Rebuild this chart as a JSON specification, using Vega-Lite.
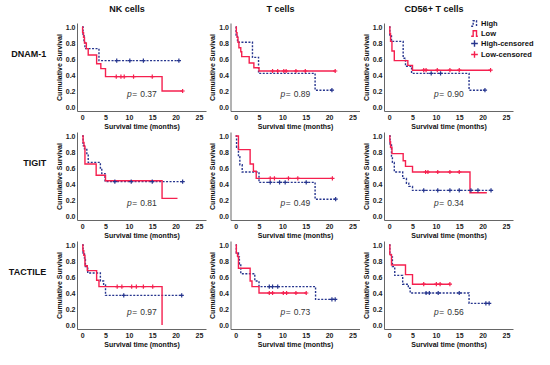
{
  "$schema": "https://vega.github.io/schema/vega-lite/v6.json",
  "padding": {"left": 8, "top": 4, "right": 0, "bottom": 2},
  "background": "white",
  "data": {"values": [
    {"marker":"DNAM-1","cells":"NK cells","group":"High","time":0,"surv":1},
    {"marker":"DNAM-1","cells":"NK cells","group":"High","time":0.2,"surv":0.89},
    {"marker":"DNAM-1","cells":"NK cells","group":"High","time":0.4,"surv":0.82},
    {"marker":"DNAM-1","cells":"NK cells","group":"High","time":0.6,"surv":0.73},
    {"marker":"DNAM-1","cells":"NK cells","group":"High","time":3.6,"surv":0.58},
    {"marker":"DNAM-1","cells":"NK cells","group":"High","time":20.7,"surv":0.58},
    {"marker":"DNAM-1","cells":"NK cells","group":"Low","time":0,"surv":1},
    {"marker":"DNAM-1","cells":"NK cells","group":"Low","time":0.1,"surv":0.93},
    {"marker":"DNAM-1","cells":"NK cells","group":"Low","time":0.3,"surv":0.87},
    {"marker":"DNAM-1","cells":"NK cells","group":"Low","time":0.5,"surv":0.8},
    {"marker":"DNAM-1","cells":"NK cells","group":"Low","time":0.9,"surv":0.73},
    {"marker":"DNAM-1","cells":"NK cells","group":"Low","time":1.3,"surv":0.65},
    {"marker":"DNAM-1","cells":"NK cells","group":"Low","time":3.1,"surv":0.54},
    {"marker":"DNAM-1","cells":"NK cells","group":"Low","time":4.0,"surv":0.48},
    {"marker":"DNAM-1","cells":"NK cells","group":"Low","time":5.0,"surv":0.38},
    {"marker":"DNAM-1","cells":"NK cells","group":"Low","time":17.1,"surv":0.2},
    {"marker":"DNAM-1","cells":"NK cells","group":"Low","time":21.5,"surv":0.2},
    {"marker":"DNAM-1","cells":"NK cells","group":"High-censored","time":7.4,"surv":0.58},
    {"marker":"DNAM-1","cells":"NK cells","group":"High-censored","time":10.2,"surv":0.58},
    {"marker":"DNAM-1","cells":"NK cells","group":"High-censored","time":13.1,"surv":0.58},
    {"marker":"DNAM-1","cells":"NK cells","group":"High-censored","time":20.7,"surv":0.58},
    {"marker":"DNAM-1","cells":"NK cells","group":"Low-censored","time":7.3,"surv":0.38},
    {"marker":"DNAM-1","cells":"NK cells","group":"Low-censored","time":8.3,"surv":0.38},
    {"marker":"DNAM-1","cells":"NK cells","group":"Low-censored","time":9.0,"surv":0.38},
    {"marker":"DNAM-1","cells":"NK cells","group":"Low-censored","time":11.0,"surv":0.38},
    {"marker":"DNAM-1","cells":"NK cells","group":"Low-censored","time":15.0,"surv":0.38},
    {"marker":"DNAM-1","cells":"NK cells","group":"Low-censored","time":21.5,"surv":0.2},
    {"marker":"DNAM-1","cells":"NK cells","group":"p","p":"0.37"},

    {"marker":"DNAM-1","cells":"T cells","group":"High","time":0,"surv":1},
    {"marker":"DNAM-1","cells":"T cells","group":"High","time":0.1,"surv":0.9},
    {"marker":"DNAM-1","cells":"T cells","group":"High","time":0.4,"surv":0.81},
    {"marker":"DNAM-1","cells":"T cells","group":"High","time":3.6,"surv":0.62},
    {"marker":"DNAM-1","cells":"T cells","group":"High","time":4.9,"surv":0.42},
    {"marker":"DNAM-1","cells":"T cells","group":"High","time":17.0,"surv":0.21},
    {"marker":"DNAM-1","cells":"T cells","group":"High","time":20.6,"surv":0.21},
    {"marker":"DNAM-1","cells":"T cells","group":"Low","time":0,"surv":1},
    {"marker":"DNAM-1","cells":"T cells","group":"Low","time":0.15,"surv":0.93},
    {"marker":"DNAM-1","cells":"T cells","group":"Low","time":0.3,"surv":0.87},
    {"marker":"DNAM-1","cells":"T cells","group":"Low","time":0.5,"surv":0.81},
    {"marker":"DNAM-1","cells":"T cells","group":"Low","time":0.7,"surv":0.74},
    {"marker":"DNAM-1","cells":"T cells","group":"Low","time":1.1,"surv":0.69},
    {"marker":"DNAM-1","cells":"T cells","group":"Low","time":1.3,"surv":0.63},
    {"marker":"DNAM-1","cells":"T cells","group":"Low","time":2.9,"surv":0.55},
    {"marker":"DNAM-1","cells":"T cells","group":"Low","time":3.9,"surv":0.49},
    {"marker":"DNAM-1","cells":"T cells","group":"Low","time":5.0,"surv":0.45},
    {"marker":"DNAM-1","cells":"T cells","group":"Low","time":21.3,"surv":0.45},
    {"marker":"DNAM-1","cells":"T cells","group":"High-censored","time":20.6,"surv":0.21},
    {"marker":"DNAM-1","cells":"T cells","group":"Low-censored","time":7.9,"surv":0.45},
    {"marker":"DNAM-1","cells":"T cells","group":"Low-censored","time":9.0,"surv":0.45},
    {"marker":"DNAM-1","cells":"T cells","group":"Low-censored","time":10.3,"surv":0.45},
    {"marker":"DNAM-1","cells":"T cells","group":"Low-censored","time":10.8,"surv":0.45},
    {"marker":"DNAM-1","cells":"T cells","group":"Low-censored","time":12.9,"surv":0.45},
    {"marker":"DNAM-1","cells":"T cells","group":"Low-censored","time":14.9,"surv":0.45},
    {"marker":"DNAM-1","cells":"T cells","group":"Low-censored","time":21.3,"surv":0.45},
    {"marker":"DNAM-1","cells":"T cells","group":"p","p":"0.89"},

    {"marker":"DNAM-1","cells":"CD56+ T cells","group":"High","time":0,"surv":1},
    {"marker":"DNAM-1","cells":"CD56+ T cells","group":"High","time":0.15,"surv":0.9},
    {"marker":"DNAM-1","cells":"CD56+ T cells","group":"High","time":0.5,"surv":0.82},
    {"marker":"DNAM-1","cells":"CD56+ T cells","group":"High","time":3.0,"surv":0.61},
    {"marker":"DNAM-1","cells":"CD56+ T cells","group":"High","time":3.5,"surv":0.51},
    {"marker":"DNAM-1","cells":"CD56+ T cells","group":"High","time":4.8,"surv":0.42},
    {"marker":"DNAM-1","cells":"CD56+ T cells","group":"High","time":17.1,"surv":0.21},
    {"marker":"DNAM-1","cells":"CD56+ T cells","group":"High","time":20.5,"surv":0.21},
    {"marker":"DNAM-1","cells":"CD56+ T cells","group":"Low","time":0,"surv":1},
    {"marker":"DNAM-1","cells":"CD56+ T cells","group":"Low","time":0.15,"surv":0.92},
    {"marker":"DNAM-1","cells":"CD56+ T cells","group":"Low","time":0.3,"surv":0.82},
    {"marker":"DNAM-1","cells":"CD56+ T cells","group":"Low","time":0.6,"surv":0.7},
    {"marker":"DNAM-1","cells":"CD56+ T cells","group":"Low","time":1.1,"surv":0.58},
    {"marker":"DNAM-1","cells":"CD56+ T cells","group":"Low","time":4.0,"surv":0.52},
    {"marker":"DNAM-1","cells":"CD56+ T cells","group":"Low","time":5.0,"surv":0.46},
    {"marker":"DNAM-1","cells":"CD56+ T cells","group":"Low","time":21.7,"surv":0.46},
    {"marker":"DNAM-1","cells":"CD56+ T cells","group":"High-censored","time":9.0,"surv":0.42},
    {"marker":"DNAM-1","cells":"CD56+ T cells","group":"High-censored","time":11.0,"surv":0.42},
    {"marker":"DNAM-1","cells":"CD56+ T cells","group":"High-censored","time":20.5,"surv":0.21},
    {"marker":"DNAM-1","cells":"CD56+ T cells","group":"Low-censored","time":7.4,"surv":0.46},
    {"marker":"DNAM-1","cells":"CD56+ T cells","group":"Low-censored","time":7.9,"surv":0.46},
    {"marker":"DNAM-1","cells":"CD56+ T cells","group":"Low-censored","time":10.3,"surv":0.46},
    {"marker":"DNAM-1","cells":"CD56+ T cells","group":"Low-censored","time":13.0,"surv":0.46},
    {"marker":"DNAM-1","cells":"CD56+ T cells","group":"Low-censored","time":15.0,"surv":0.46},
    {"marker":"DNAM-1","cells":"CD56+ T cells","group":"Low-censored","time":21.7,"surv":0.46},
    {"marker":"DNAM-1","cells":"CD56+ T cells","group":"p","p":"0.90"},

    {"marker":"TIGIT","cells":"NK cells","group":"High","time":0,"surv":1},
    {"marker":"TIGIT","cells":"NK cells","group":"High","time":0.2,"surv":0.88},
    {"marker":"TIGIT","cells":"NK cells","group":"High","time":0.5,"surv":0.84},
    {"marker":"TIGIT","cells":"NK cells","group":"High","time":1.0,"surv":0.78},
    {"marker":"TIGIT","cells":"NK cells","group":"High","time":1.3,"surv":0.67},
    {"marker":"TIGIT","cells":"NK cells","group":"High","time":3.9,"surv":0.6},
    {"marker":"TIGIT","cells":"NK cells","group":"High","time":4.2,"surv":0.53},
    {"marker":"TIGIT","cells":"NK cells","group":"High","time":4.9,"surv":0.43},
    {"marker":"TIGIT","cells":"NK cells","group":"High","time":21.5,"surv":0.43},
    {"marker":"TIGIT","cells":"NK cells","group":"Low","time":0,"surv":1},
    {"marker":"TIGIT","cells":"NK cells","group":"Low","time":0.2,"surv":0.92},
    {"marker":"TIGIT","cells":"NK cells","group":"Low","time":0.4,"surv":0.87},
    {"marker":"TIGIT","cells":"NK cells","group":"Low","time":0.6,"surv":0.65},
    {"marker":"TIGIT","cells":"NK cells","group":"Low","time":3.0,"surv":0.51},
    {"marker":"TIGIT","cells":"NK cells","group":"Low","time":5.0,"surv":0.44},
    {"marker":"TIGIT","cells":"NK cells","group":"Low","time":17.1,"surv":0.22},
    {"marker":"TIGIT","cells":"NK cells","group":"Low","time":20.4,"surv":0.22},
    {"marker":"TIGIT","cells":"NK cells","group":"High-censored","time":7.0,"surv":0.43},
    {"marker":"TIGIT","cells":"NK cells","group":"High-censored","time":10.5,"surv":0.43},
    {"marker":"TIGIT","cells":"NK cells","group":"High-censored","time":15.0,"surv":0.43},
    {"marker":"TIGIT","cells":"NK cells","group":"High-censored","time":21.5,"surv":0.43},
    {"marker":"TIGIT","cells":"NK cells","group":"p","p":"0.81"},

    {"marker":"TIGIT","cells":"T cells","group":"High","time":0,"surv":1},
    {"marker":"TIGIT","cells":"T cells","group":"High","time":0.2,"surv":0.86},
    {"marker":"TIGIT","cells":"T cells","group":"High","time":0.6,"surv":0.74},
    {"marker":"TIGIT","cells":"T cells","group":"High","time":0.9,"surv":0.64},
    {"marker":"TIGIT","cells":"T cells","group":"High","time":1.4,"surv":0.55},
    {"marker":"TIGIT","cells":"T cells","group":"High","time":5.0,"surv":0.42},
    {"marker":"TIGIT","cells":"T cells","group":"High","time":17.0,"surv":0.21},
    {"marker":"TIGIT","cells":"T cells","group":"High","time":21.4,"surv":0.21},
    {"marker":"TIGIT","cells":"T cells","group":"Low","time":0,"surv":1},
    {"marker":"TIGIT","cells":"T cells","group":"Low","time":0.6,"surv":0.83},
    {"marker":"TIGIT","cells":"T cells","group":"Low","time":3.1,"surv":0.65},
    {"marker":"TIGIT","cells":"T cells","group":"Low","time":3.8,"surv":0.56},
    {"marker":"TIGIT","cells":"T cells","group":"Low","time":4.4,"surv":0.47},
    {"marker":"TIGIT","cells":"T cells","group":"Low","time":20.7,"surv":0.47},
    {"marker":"TIGIT","cells":"T cells","group":"High-censored","time":7.4,"surv":0.42},
    {"marker":"TIGIT","cells":"T cells","group":"High-censored","time":9.4,"surv":0.42},
    {"marker":"TIGIT","cells":"T cells","group":"High-censored","time":10.6,"surv":0.42},
    {"marker":"TIGIT","cells":"T cells","group":"High-censored","time":15.1,"surv":0.42},
    {"marker":"TIGIT","cells":"T cells","group":"High-censored","time":21.4,"surv":0.21},
    {"marker":"TIGIT","cells":"T cells","group":"Low-censored","time":7.4,"surv":0.47},
    {"marker":"TIGIT","cells":"T cells","group":"Low-censored","time":8.3,"surv":0.47},
    {"marker":"TIGIT","cells":"T cells","group":"Low-censored","time":11.3,"surv":0.47},
    {"marker":"TIGIT","cells":"T cells","group":"Low-censored","time":13.3,"surv":0.47},
    {"marker":"TIGIT","cells":"T cells","group":"Low-censored","time":20.7,"surv":0.47},
    {"marker":"TIGIT","cells":"T cells","group":"p","p":"0.49"},

    {"marker":"TIGIT","cells":"CD56+ T cells","group":"High","time":0,"surv":1},
    {"marker":"TIGIT","cells":"CD56+ T cells","group":"High","time":0.2,"surv":0.9},
    {"marker":"TIGIT","cells":"CD56+ T cells","group":"High","time":0.5,"surv":0.75},
    {"marker":"TIGIT","cells":"CD56+ T cells","group":"High","time":0.7,"surv":0.67},
    {"marker":"TIGIT","cells":"CD56+ T cells","group":"High","time":1.1,"surv":0.55},
    {"marker":"TIGIT","cells":"CD56+ T cells","group":"High","time":2.9,"surv":0.47},
    {"marker":"TIGIT","cells":"CD56+ T cells","group":"High","time":3.7,"surv":0.41},
    {"marker":"TIGIT","cells":"CD56+ T cells","group":"High","time":4.2,"surv":0.37},
    {"marker":"TIGIT","cells":"CD56+ T cells","group":"High","time":5.0,"surv":0.32},
    {"marker":"TIGIT","cells":"CD56+ T cells","group":"High","time":21.8,"surv":0.32},
    {"marker":"TIGIT","cells":"CD56+ T cells","group":"Low","time":0,"surv":1},
    {"marker":"TIGIT","cells":"CD56+ T cells","group":"Low","time":0.15,"surv":0.93},
    {"marker":"TIGIT","cells":"CD56+ T cells","group":"Low","time":0.3,"surv":0.86},
    {"marker":"TIGIT","cells":"CD56+ T cells","group":"Low","time":0.6,"surv":0.78},
    {"marker":"TIGIT","cells":"CD56+ T cells","group":"Low","time":3.0,"surv":0.69},
    {"marker":"TIGIT","cells":"CD56+ T cells","group":"Low","time":3.5,"surv":0.62},
    {"marker":"TIGIT","cells":"CD56+ T cells","group":"Low","time":5.0,"surv":0.55},
    {"marker":"TIGIT","cells":"CD56+ T cells","group":"Low","time":17.3,"surv":0.29},
    {"marker":"TIGIT","cells":"CD56+ T cells","group":"Low","time":20.9,"surv":0.29},
    {"marker":"TIGIT","cells":"CD56+ T cells","group":"High-censored","time":7.4,"surv":0.32},
    {"marker":"TIGIT","cells":"CD56+ T cells","group":"High-censored","time":10.4,"surv":0.32},
    {"marker":"TIGIT","cells":"CD56+ T cells","group":"High-censored","time":13.0,"surv":0.32},
    {"marker":"TIGIT","cells":"CD56+ T cells","group":"High-censored","time":15.0,"surv":0.32},
    {"marker":"TIGIT","cells":"CD56+ T cells","group":"High-censored","time":17.5,"surv":0.32},
    {"marker":"TIGIT","cells":"CD56+ T cells","group":"High-censored","time":19.0,"surv":0.32},
    {"marker":"TIGIT","cells":"CD56+ T cells","group":"High-censored","time":21.8,"surv":0.32},
    {"marker":"TIGIT","cells":"CD56+ T cells","group":"Low-censored","time":7.8,"surv":0.55},
    {"marker":"TIGIT","cells":"CD56+ T cells","group":"Low-censored","time":8.3,"surv":0.55},
    {"marker":"TIGIT","cells":"CD56+ T cells","group":"Low-censored","time":10.4,"surv":0.55},
    {"marker":"TIGIT","cells":"CD56+ T cells","group":"Low-censored","time":13.0,"surv":0.55},
    {"marker":"TIGIT","cells":"CD56+ T cells","group":"Low-censored","time":15.0,"surv":0.55},
    {"marker":"TIGIT","cells":"CD56+ T cells","group":"p","p":"0.34"},

    {"marker":"TACTILE","cells":"NK cells","group":"High","time":0,"surv":1},
    {"marker":"TACTILE","cells":"NK cells","group":"High","time":0.2,"surv":0.9},
    {"marker":"TACTILE","cells":"NK cells","group":"High","time":0.5,"surv":0.82},
    {"marker":"TACTILE","cells":"NK cells","group":"High","time":0.7,"surv":0.73},
    {"marker":"TACTILE","cells":"NK cells","group":"High","time":1.2,"surv":0.65},
    {"marker":"TACTILE","cells":"NK cells","group":"High","time":3.9,"surv":0.55},
    {"marker":"TACTILE","cells":"NK cells","group":"High","time":4.6,"surv":0.5},
    {"marker":"TACTILE","cells":"NK cells","group":"High","time":5.0,"surv":0.37},
    {"marker":"TACTILE","cells":"NK cells","group":"High","time":21.3,"surv":0.37},
    {"marker":"TACTILE","cells":"NK cells","group":"Low","time":0,"surv":1},
    {"marker":"TACTILE","cells":"NK cells","group":"Low","time":0.15,"surv":0.93},
    {"marker":"TACTILE","cells":"NK cells","group":"Low","time":0.35,"surv":0.87},
    {"marker":"TACTILE","cells":"NK cells","group":"Low","time":0.6,"surv":0.74},
    {"marker":"TACTILE","cells":"NK cells","group":"Low","time":1.1,"surv":0.68},
    {"marker":"TACTILE","cells":"NK cells","group":"Low","time":3.1,"surv":0.56},
    {"marker":"TACTILE","cells":"NK cells","group":"Low","time":3.6,"surv":0.48},
    {"marker":"TACTILE","cells":"NK cells","group":"Low","time":17.1,"surv":0.0},
    {"marker":"TACTILE","cells":"NK cells","group":"High-censored","time":8.9,"surv":0.37},
    {"marker":"TACTILE","cells":"NK cells","group":"High-censored","time":21.3,"surv":0.37},
    {"marker":"TACTILE","cells":"NK cells","group":"Low-censored","time":7.5,"surv":0.48},
    {"marker":"TACTILE","cells":"NK cells","group":"Low-censored","time":8.5,"surv":0.48},
    {"marker":"TACTILE","cells":"NK cells","group":"Low-censored","time":10.6,"surv":0.48},
    {"marker":"TACTILE","cells":"NK cells","group":"Low-censored","time":11.6,"surv":0.48},
    {"marker":"TACTILE","cells":"NK cells","group":"Low-censored","time":13.1,"surv":0.48},
    {"marker":"TACTILE","cells":"NK cells","group":"Low-censored","time":15.1,"surv":0.48},
    {"marker":"TACTILE","cells":"NK cells","group":"p","p":"0.97"},

    {"marker":"TACTILE","cells":"T cells","group":"High","time":0,"surv":1},
    {"marker":"TACTILE","cells":"T cells","group":"High","time":0.15,"surv":0.9},
    {"marker":"TACTILE","cells":"T cells","group":"High","time":0.6,"surv":0.85},
    {"marker":"TACTILE","cells":"T cells","group":"High","time":0.8,"surv":0.76},
    {"marker":"TACTILE","cells":"T cells","group":"High","time":1.1,"surv":0.64},
    {"marker":"TACTILE","cells":"T cells","group":"High","time":4.1,"surv":0.55},
    {"marker":"TACTILE","cells":"T cells","group":"High","time":5.0,"surv":0.48},
    {"marker":"TACTILE","cells":"T cells","group":"High","time":17.1,"surv":0.32},
    {"marker":"TACTILE","cells":"T cells","group":"High","time":21.3,"surv":0.32},
    {"marker":"TACTILE","cells":"T cells","group":"Low","time":0,"surv":1},
    {"marker":"TACTILE","cells":"T cells","group":"Low","time":0.15,"surv":0.9},
    {"marker":"TACTILE","cells":"T cells","group":"Low","time":0.4,"surv":0.86},
    {"marker":"TACTILE","cells":"T cells","group":"Low","time":0.6,"surv":0.71},
    {"marker":"TACTILE","cells":"T cells","group":"Low","time":3.1,"surv":0.55},
    {"marker":"TACTILE","cells":"T cells","group":"Low","time":3.5,"surv":0.48},
    {"marker":"TACTILE","cells":"T cells","group":"Low","time":5.0,"surv":0.4},
    {"marker":"TACTILE","cells":"T cells","group":"Low","time":15.1,"surv":0.4},
    {"marker":"TACTILE","cells":"T cells","group":"High-censored","time":7.2,"surv":0.48},
    {"marker":"TACTILE","cells":"T cells","group":"High-censored","time":7.9,"surv":0.48},
    {"marker":"TACTILE","cells":"T cells","group":"High-censored","time":9.0,"surv":0.48},
    {"marker":"TACTILE","cells":"T cells","group":"High-censored","time":20.6,"surv":0.32},
    {"marker":"TACTILE","cells":"T cells","group":"High-censored","time":21.3,"surv":0.32},
    {"marker":"TACTILE","cells":"T cells","group":"Low-censored","time":7.2,"surv":0.4},
    {"marker":"TACTILE","cells":"T cells","group":"Low-censored","time":7.9,"surv":0.4},
    {"marker":"TACTILE","cells":"T cells","group":"Low-censored","time":10.2,"surv":0.4},
    {"marker":"TACTILE","cells":"T cells","group":"Low-censored","time":10.9,"surv":0.4},
    {"marker":"TACTILE","cells":"T cells","group":"Low-censored","time":12.9,"surv":0.4},
    {"marker":"TACTILE","cells":"T cells","group":"Low-censored","time":15.1,"surv":0.4},
    {"marker":"TACTILE","cells":"T cells","group":"p","p":"0.73"},

    {"marker":"TACTILE","cells":"CD56+ T cells","group":"High","time":0,"surv":1},
    {"marker":"TACTILE","cells":"CD56+ T cells","group":"High","time":0.15,"surv":0.9},
    {"marker":"TACTILE","cells":"CD56+ T cells","group":"High","time":0.4,"surv":0.85},
    {"marker":"TACTILE","cells":"CD56+ T cells","group":"High","time":0.7,"surv":0.73},
    {"marker":"TACTILE","cells":"CD56+ T cells","group":"High","time":1.2,"surv":0.62},
    {"marker":"TACTILE","cells":"CD56+ T cells","group":"High","time":2.9,"surv":0.51},
    {"marker":"TACTILE","cells":"CD56+ T cells","group":"High","time":4.1,"surv":0.46},
    {"marker":"TACTILE","cells":"CD56+ T cells","group":"High","time":4.5,"surv":0.4},
    {"marker":"TACTILE","cells":"CD56+ T cells","group":"High","time":17.1,"surv":0.27},
    {"marker":"TACTILE","cells":"CD56+ T cells","group":"High","time":21.4,"surv":0.27},
    {"marker":"TACTILE","cells":"CD56+ T cells","group":"Low","time":0,"surv":1},
    {"marker":"TACTILE","cells":"CD56+ T cells","group":"Low","time":0.15,"surv":0.88},
    {"marker":"TACTILE","cells":"CD56+ T cells","group":"Low","time":0.5,"surv":0.75},
    {"marker":"TACTILE","cells":"CD56+ T cells","group":"Low","time":3.5,"surv":0.63},
    {"marker":"TACTILE","cells":"CD56+ T cells","group":"Low","time":5.0,"surv":0.51},
    {"marker":"TACTILE","cells":"CD56+ T cells","group":"Low","time":13.0,"surv":0.51},
    {"marker":"TACTILE","cells":"CD56+ T cells","group":"High-censored","time":7.9,"surv":0.4},
    {"marker":"TACTILE","cells":"CD56+ T cells","group":"High-censored","time":8.6,"surv":0.4},
    {"marker":"TACTILE","cells":"CD56+ T cells","group":"High-censored","time":10.5,"surv":0.4},
    {"marker":"TACTILE","cells":"CD56+ T cells","group":"High-censored","time":15.0,"surv":0.4},
    {"marker":"TACTILE","cells":"CD56+ T cells","group":"High-censored","time":20.7,"surv":0.27},
    {"marker":"TACTILE","cells":"CD56+ T cells","group":"High-censored","time":21.4,"surv":0.27},
    {"marker":"TACTILE","cells":"CD56+ T cells","group":"Low-censored","time":7.4,"surv":0.51},
    {"marker":"TACTILE","cells":"CD56+ T cells","group":"Low-censored","time":10.1,"surv":0.51},
    {"marker":"TACTILE","cells":"CD56+ T cells","group":"Low-censored","time":10.9,"surv":0.51},
    {"marker":"TACTILE","cells":"CD56+ T cells","group":"Low-censored","time":13.0,"surv":0.51},
    {"marker":"TACTILE","cells":"CD56+ T cells","group":"p","p":"0.56"}
  ]},
  "facet": {
    "row": {"field": "marker", "type": "nominal", "sort": ["DNAM-1", "TIGIT", "TACTILE"], "header": null},
    "column": {"field": "cells", "type": "nominal", "sort": ["NK cells", "T cells", "CD56+ T cells"], "header": null}
  },
  "align": "each",
  "spacing": {"row": 3, "column": 2.5},
  "resolve": {"scale": {"x": "independent", "y": "independent"}},
  "spec": {
    "width": 129,
    "height": 88,
    "layer": [
      {
        "transform": [{"filter": "datum.group === 'High' || datum.group === 'Low'"}],
        "mark": {"type": "line", "interpolate": "step-after", "strokeWidth": 1.4},
        "encoding": {
          "x": {"field": "time", "type": "quantitative",
            "scale": {"domain": [-1.1, 26.5], "nice": false, "zero": false},
            "axis": {"title": "Survival time (months)", "values": [0, 5, 10, 15, 20, 25], "tickCount": 20, "grid": false, "ticks": false, "labelPadding": 2, "titlePadding": 2, "labelFlush": false, "labelOverlap": false, "labelBound": false}},
          "y": {"field": "surv", "type": "quantitative",
            "scale": {"domain": [-0.05, 1.05], "nice": false, "zero": false},
            "axis": {"title": "Cumulative Survival", "values": [0, 0.2, 0.4, 0.6, 0.8, 1], "tickCount": 20, "format": ".1f", "grid": false, "ticks": false, "labelPadding": 2, "titlePadding": 3, "labelFlush": false, "labelOverlap": false, "labelBound": false}},
          "color": {"field": "group", "type": "nominal",
            "scale": {"domain": ["High", "Low", "High-censored", "Low-censored"], "range": ["#26358e", "#f5204f", "#26358e", "#f5204f"]},
            "legend": {"title": null, "orient": "none", "legendX": 393, "legendY": -4}},
          "strokeDash": {"field": "group", "type": "nominal",
            "scale": {"domain": ["High", "Low", "High-censored", "Low-censored"], "range": [[2, 1.5], [1, 0], [1, 0], [1, 0]]},
            "legend": {"title": null, "orient": "none", "legendX": 393, "legendY": -4}}
        }
      },
      {
        "transform": [{"filter": "datum.group === 'High-censored' || datum.group === 'Low-censored'"}],
        "mark": {"type": "point", "filled": false, "size": 18, "strokeWidth": 1.2, "opacity": 1},
        "encoding": {
          "x": {"field": "time", "type": "quantitative"},
          "y": {"field": "surv", "type": "quantitative"},
          "color": {"field": "group", "type": "nominal"},
          "shape": {"field": "group", "type": "nominal",
            "scale": {"domain": ["High", "Low", "High-censored", "Low-censored"], "range": ["M-1,0.8H-0.4V-0.8H0.6V0.8H1", "M-1,0.8H-0.4V-0.8H0.6V0.8H1", "M-1,0H1M0,-1V1", "M-1,0H1M0,-1V1"]},
            "legend": {"title": null, "orient": "none", "legendX": 393, "legendY": -4}}
        }
      },
      {
        "transform": [{"filter": "datum.group === 'p'"}],
        "mark": {"type": "text", "align": "right", "baseline": "middle", "fontStyle": "italic", "fontSize": 8.5, "font": "Liberation Sans", "color": "#333"},
        "encoding": {"x": {"datum": 10.6}, "y": {"datum": 0.16}, "text": {"value": "p"}}
      },
      {
        "transform": [{"filter": "datum.group === 'p'"}],
        "mark": {"type": "text", "align": "left", "baseline": "middle", "fontSize": 8.5, "font": "Liberation Sans", "color": "#333", "dx": 0.5},
        "encoding": {"x": {"datum": 10.6}, "y": {"datum": 0.16}, "text": {"value": "="}}
      },
      {
        "transform": [{"filter": "datum.group === 'p'"}],
        "mark": {"type": "text", "align": "left", "baseline": "middle", "fontSize": 8.5, "font": "Liberation Sans", "color": "#333", "dx": 8.5},
        "encoding": {"x": {"datum": 10.6}, "y": {"datum": 0.16}, "text": {"field": "p"}}
      },
      {
        "transform": [{"filter": "datum.group === 'p' && datum.cells === 'NK cells'"}],
        "mark": {"type": "text", "align": "right", "baseline": "middle", "fontSize": 9, "fontWeight": "bold", "font": "Liberation Sans", "color": "#111"},
        "encoding": {"x": {"datum": -7.7}, "y": {"datum": 0.66}, "text": {"field": "marker"}}
      },
      {
        "transform": [{"filter": "datum.group === 'p' && datum.marker === 'DNAM-1'"}],
        "mark": {"type": "text", "align": "center", "baseline": "middle", "fontSize": 9, "fontWeight": "bold", "font": "Liberation Sans", "color": "#111"},
        "encoding": {"x": {"datum": 9.6}, "y": {"datum": 1.225}, "text": {"field": "cells"}}
      }
    ]
  },
  "config": {
    "view": {"stroke": null},
    "font": "Liberation Sans",
    "axis": {"domainColor": "#666", "domainWidth": 1, "labelOverlap": false, "labelFont": "Liberation Sans", "labelFontWeight": "bold", "labelFontSize": 7, "labelColor": "#222", "titleFont": "Liberation Sans", "titleFontWeight": "bold", "titleFontSize": 7, "titleColor": "#111"},
    "legend": {"labelFont": "Liberation Sans", "labelFontWeight": "bold", "labelFontSize": 7.5, "labelColor": "#111", "symbolSize": 45, "symbolStrokeWidth": 1.4, "rowPadding": -3.5, "labelOffset": 2, "symbolFillColor": "transparent"}
  }
}
